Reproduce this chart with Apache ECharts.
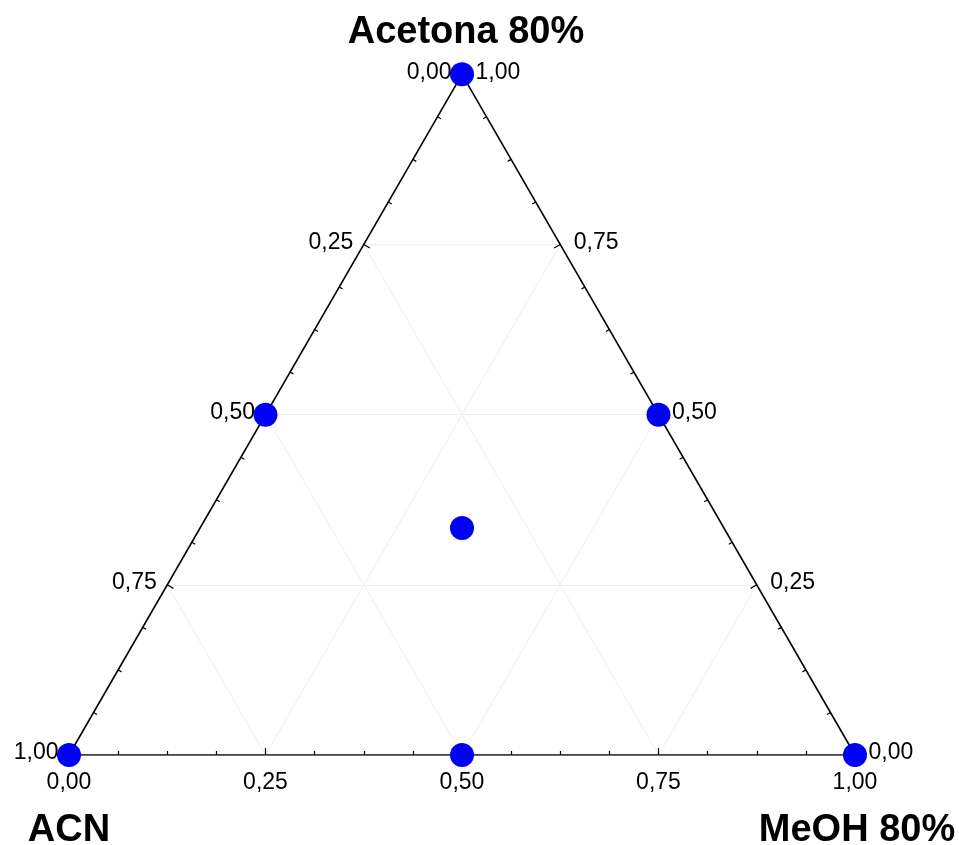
<!DOCTYPE html>
<html>
<head>
<meta charset="utf-8">
<script src="https://cdn.jsdelivr.net/npm/echarts@6/dist/echarts.min.js"></script>
<style>
  html, body { margin: 0; padding: 0; background: #ffffff; }
  #chart { width: 959px; height: 845px; }
</style>
</head>
<body>
<div id="chart"></div>
<script>
// Ternary mixture design: ACN / MeOH 80% / Acetona 80%
const componentNames = ['ACN', 'MeOH 80%', 'Acetona 80%'];

// Mixture compositions (fractions of each component)
const acn     = [1, 0, 0, 0.5, 0.5, 0,   1 / 3];
const meoh    = [0, 1, 0, 0.5, 0,   0.5, 1 / 3];
const acetona = [0, 0, 1, 0,   0.5, 0.5, 1 / 3];

// Axis ticks
const tickValues = [0, 0.25, 0.5, 0.75, 1];
const tickLabels = ['0,00', '0,25', '0,50', '0,75', '1,00'];
const gridLevels = [0.25, 0.5, 0.75];
const minorTicks = [0.0625, 0.125, 0.1875, 0.3125, 0.375, 0.4375, 0.5625, 0.625, 0.6875, 0.8125, 0.875, 0.9375];

const H = Math.sqrt(3) / 2;

// Barycentric (ACN, MeOH, Acetona) -> planar coordinates of the triangle
function toXY(a, m, c) {
  return [m + c / 2, c * H];
}

// Composition points
const points = acn.map((a, i) => toXY(a, meoh[i], acetona[i]));

// Triangle outline
const vA = toXY(1, 0, 0), vM = toXY(0, 1, 0), vC = toXY(0, 0, 1);
const edges = [
  { coords: [vA, vM] },
  { coords: [vM, vC] },
  { coords: [vC, vA] }
];

// Reference grid lines at constant fractions
const gridLines = [];
gridLevels.forEach(v => {
  gridLines.push({ coords: [toXY(1 - v, 0, v), toXY(0, 1 - v, v)] }); // Acetona = v
  gridLines.push({ coords: [toXY(1 - v, v, 0), toXY(0, v, 1 - v)] }); // MeOH = v
  gridLines.push({ coords: [toXY(v, 1 - v, 0), toXY(v, 0, 1 - v)] }); // ACN = v
});

// Tick marks along each edge, pointing into the triangle
const nBottom = [0, 1], nLeft = [H, -0.5], nRight = [-H, -0.5];
const tickSegs = [];
function addTick(p, n, len) {
  tickSegs.push({ coords: [p, [p[0] + n[0] * len, p[1] + n[1] * len]] });
}
gridLevels.forEach(v => {
  addTick(toXY(1 - v, v, 0), nBottom, 0.009);
  addTick(toXY(v, 0, 1 - v), nLeft, 0.009);
  addTick(toXY(0, 1 - v, v), nRight, 0.009);
});
minorTicks.forEach(v => {
  addTick(toXY(1 - v, v, 0), nBottom, 0.005);
  addTick(toXY(v, 0, 1 - v), nLeft, 0.005);
  addTick(toXY(0, 1 - v, v), nRight, 0.005);
});

// Tick label anchors on each edge
const bottomLabels = tickValues.map((v, i) => ({ value: toXY(1 - v, v, 0), name: tickLabels[i] }));  // MeOH
const leftLabels   = tickValues.map((v, i) => ({ value: toXY(v, 0, 1 - v), name: tickLabels[i] }));  // ACN
const rightLabels  = tickValues.map((v, i) => ({ value: toXY(0, 1 - v, v), name: tickLabels[i] }));  // Acetona

const tickFont = { fontFamily: 'Liberation Sans, Arial, sans-serif', fontSize: 23, color: '#000000', opacity: 1, textBorderWidth: 0 };
const titleFont = { fontFamily: 'Liberation Sans, Arial, sans-serif', fontSize: 38, fontWeight: 'bold', color: '#000000', opacity: 1, textBorderWidth: 0 };

function labelSeries(data, label) {
  return {
    type: 'scatter',
    data: data,
    symbolSize: 1,
    itemStyle: { color: 'rgba(255,255,255,0)' },
    emphasis: { disabled: true },
    silent: true,
    z: 5,
    label: Object.assign({ show: true, formatter: p => p.name }, label)
  };
}

const chart = echarts.init(document.getElementById('chart'), null, { renderer: 'canvas' });
chart.setOption({
  animation: false,
  backgroundColor: '#ffffff',
  grid: { left: 69, top: 755 - 786 * H, width: 786, height: 786 * H, containLabel: false },
  xAxis: { type: 'value', min: 0, max: 1, show: false },
  yAxis: { type: 'value', min: 0, max: H, show: false },
  series: [
    {
      type: 'lines', coordinateSystem: 'cartesian2d', data: gridLines, silent: true, z: 1,
      lineStyle: { color: '#eeeeee', width: 1, opacity: 1 }
    },
    {
      type: 'lines', coordinateSystem: 'cartesian2d', data: edges, silent: true, z: 2,
      lineStyle: { color: '#000000', width: 1.6, opacity: 1 }
    },
    {
      type: 'lines', coordinateSystem: 'cartesian2d', data: tickSegs, silent: true, z: 2,
      lineStyle: { color: '#000000', width: 1.2, opacity: 1 }
    },
    {
      type: 'scatter', data: points, symbol: 'circle', symbolSize: 24, z: 4,
      itemStyle: { color: '#0000f8', opacity: 1 }
    },
    labelSeries(bottomLabels, Object.assign({ position: 'bottom', distance: 16 }, tickFont)),
    labelSeries(leftLabels, Object.assign({ position: 'left', distance: 10, offset: [0, -2] }, tickFont)),
    labelSeries(rightLabels, Object.assign({ position: 'right', distance: 13, offset: [0, -2] }, tickFont)),
    labelSeries([{ value: vC, name: componentNames[2] }], Object.assign({ position: 'top', distance: 22, offset: [4, 0] }, titleFont)),
    labelSeries([{ value: vA, name: componentNames[0] }], Object.assign({ position: 'bottom', distance: 56 }, titleFont)),
    labelSeries([{ value: vM, name: componentNames[1] }], Object.assign({ position: 'bottom', distance: 56, offset: [2, 0] }, titleFont))
  ]
});
</script>
</body>
</html>
